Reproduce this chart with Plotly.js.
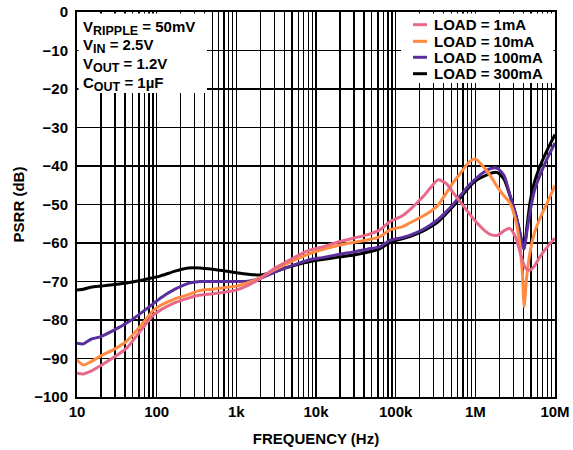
<!DOCTYPE html>
<html>
<head>
<meta charset="utf-8">
<script src="https://cdn.plot.ly/plotly-3.0.1.min.js"></script>
<style>html,body{margin:0;padding:0;background:#fff;}#chart{width:573px;height:450px;}</style>
</head>
<body>
<div id="chart"></div>
<script>
// Frequency (Hz)
const freq = [10, 12, 15, 20, 30, 42, 60, 90, 110, 170, 250, 350, 500, 700, 1000, 1400, 2000, 3000, 4000, 6000, 8500, 12000, 20000, 30000, 44000, 63000, 85000, 120000, 150000, 220000, 270000, 340000, 430000, 530000, 630000, 850000, 1000000, 1300000, 1600000, 1900000, 2300000, 2700000, 3200000, 3600000, 3900000, 4100000, 4400000, 4900000, 5500000, 6500000, 8000000, 10000000];

// PSRR (dB) per load
const load1mA = [-93.8, -94.0, -93.3, -91.8, -89.5, -87.3, -83.3, -78.8, -77.5, -75.5, -74.3, -73.5, -73.2, -72.8, -72.2, -71.0, -69.2, -66.6, -65.2, -63.2, -61.8, -61.0, -59.6, -58.7, -57.9, -56.6, -54.4, -53.0, -51.4, -48.0, -45.8, -43.6, -44.5, -47.0, -49.0, -52.5, -54.3, -56.7, -57.9, -58.0, -56.8, -56.2, -58.5, -62.0, -64.5, -65.8, -66.8, -67.0, -66.0, -63.5, -61.0, -58.7];
const load10mA = [-90.4, -91.7, -90.8, -89.3, -87.5, -85.5, -82.0, -77.6, -76.3, -74.5, -73.4, -72.3, -72.0, -71.6, -71.2, -70.3, -69.0, -67.0, -65.7, -64.0, -62.7, -61.7, -60.5, -59.8, -59.2, -58.4, -56.6, -55.8, -54.8, -53.0, -51.9, -50.2, -47.1, -44.2, -42.3, -38.8, -38.2, -40.5, -43.0, -45.5, -47.8, -49.5, -54.0, -60.0, -68.0, -76.5, -69.0, -62.0, -57.5, -53.5, -49.5, -45.0];
const load100mA = [-86.0, -86.2, -85.0, -84.3, -82.5, -80.8, -78.6, -75.8, -74.4, -72.0, -70.5, -70.0, -70.0, -70.0, -70.0, -69.9, -69.2, -67.6, -66.6, -65.3, -64.3, -63.8, -62.9, -62.3, -61.6, -61.0, -59.3, -58.6, -58.0, -56.5, -55.4, -53.9, -51.9, -49.9, -48.0, -44.8, -43.4, -41.5, -40.6, -40.6, -42.5, -47.3, -52.5, -57.0, -60.5, -61.5, -57.5, -51.5, -46.5, -42.3, -38.0, -34.0];
const load300mA = [-72.2, -72.0, -71.5, -71.2, -70.8, -70.4, -69.8, -69.0, -68.6, -67.3, -66.5, -66.5, -66.8, -67.2, -67.7, -68.1, -68.3, -67.5, -66.6, -65.5, -64.8, -64.3, -63.6, -63.1, -62.4, -61.5, -59.9, -58.9, -58.3, -56.9, -55.9, -54.5, -52.4, -50.4, -48.6, -45.3, -43.9, -42.6, -41.8, -41.7, -43.5, -47.5, -52.5, -57.0, -60.5, -61.5, -56.5, -49.0, -44.3, -40.0, -35.8, -31.8];

const seriesNames = ['LOAD = 1mA', 'LOAD = 10mA', 'LOAD = 100mA', 'LOAD = 300mA'];
const seriesColors = ['#E8688A', '#FF8A40', '#5A2E9C', '#000000'];
const seriesValues = [load1mA, load10mA, load100mA, load300mA];

const xTickVals = [10, 100, 1000, 10000, 100000, 1000000, 10000000];
const xTickText = ['10', '100', '1k', '10k', '100k', '1M', '10M'];

const condSymbols = ['V', 'V', 'V', 'C'];
const condSubs = ['RIPPLE', 'IN', 'OUT', 'OUT'];
const condValues = [' = 50mV', ' = 2.5V', ' = 1.2V', ' = 1µF'];

const FONT = 'Liberation Sans, Arial, Helvetica, sans-serif';

// draw order: 300mA first, then 100mA, 10mA, 1mA
const drawOrder = [3, 2, 1, 0];
const traces = drawOrder.map(i => ({
  type: 'scatter', mode: 'lines', x: freq, y: seriesValues[i], name: seriesNames[i],
  line: {color: seriesColors[i], width: 3, shape: 'spline', smoothing: 0.6},
  showlegend: false, hoverinfo: 'skip'
}));

// pixel helpers for layout placement (plot area 77..555 x, 12..397 y)
const L = 77, R = 555, T = 12, B = 397;
const px = v => (v - L) / (R - L);
const py = v => (B - v) / (B - T);

const shapes = [
  {type: 'rect', xref: 'paper', yref: 'paper', x0: px(78.5), x1: px(207), y0: py(93), y1: py(13.5), fillcolor: '#fff', line: {width: 0}, layer: 'above'},
  {type: 'rect', xref: 'paper', yref: 'paper', x0: px(401), x1: px(553.5), y0: py(83), y1: py(13.5), fillcolor: '#fff', line: {width: 0}, layer: 'above'}
];
const annotations = [];
const legendRows = [24.7, 41.3, 57.3, 73.7];
seriesNames.forEach((n, i) => {
  shapes.push({type: 'line', xref: 'paper', yref: 'paper', x0: px(413), x1: px(427), y0: py(legendRows[i]), y1: py(legendRows[i]), line: {color: seriesColors[i], width: 3}, layer: 'above'});
  annotations.push({xref: 'paper', yref: 'paper', x: px(432), y: py(legendRows[i]), xanchor: 'left', yanchor: 'middle', text: n, showarrow: false, font: {family: FONT, size: 15, weight: 'bold', color: '#000'}});
});
const condRows = [28, 46.5, 65, 83.5];
condSymbols.forEach((s, i) => {
  const t = s + '<sub><span style="font-size:12.5px">' + condSubs[i] + '</span></sub>' + condValues[i];
  annotations.push({xref: 'paper', yref: 'paper', x: px(81), y: py(condRows[i]), xanchor: 'left', yanchor: 'middle', text: t, showarrow: false, font: {family: FONT, size: 15, weight: 'bold', color: '#000'}});
});

const layout = {
  width: 573, height: 450,
  margin: {l: L, r: 573 - R, t: T, b: 450 - B},
  paper_bgcolor: '#fff', plot_bgcolor: '#fff',
  showlegend: false,
  font: {family: FONT, color: '#000'},
  xaxis: {
    type: 'log', range: [1, 7], tickmode: 'array', tickvals: xTickVals, ticktext: xTickText,
    showgrid: true, gridcolor: '#000', gridwidth: 1.5,
    minor: {dtick: 'D1', showgrid: true, gridcolor: '#000', gridwidth: 1.5, ticks: ''},
    showline: true, linecolor: '#000', linewidth: 2, mirror: true, ticks: '', zeroline: false,
    tickfont: {family: FONT, size: 15, weight: 'bold', color: '#000'},
    title: {text: 'FREQUENCY (Hz)', font: {family: FONT, size: 15, weight: 'bold', color: '#000'}, standoff: 14}
  },
  yaxis: {
    range: [-100, 0], tick0: 0, dtick: 10,
    showgrid: true, gridcolor: '#000', gridwidth: 1.5,
    showline: true, linecolor: '#000', linewidth: 2, mirror: true, ticks: '', zeroline: false,
    tickfont: {family: FONT, size: 15, weight: 'bold', color: '#000'},
    ticklabelstandoff: 4,
    title: {text: 'PSRR (dB)', font: {family: FONT, size: 15, weight: 'bold', color: '#000'}, standoff: 6}
  },
  shapes: shapes,
  annotations: annotations
};

Plotly.newPlot('chart', traces, layout, {staticPlot: true, displayModeBar: false});
</script>
</body>
</html>
